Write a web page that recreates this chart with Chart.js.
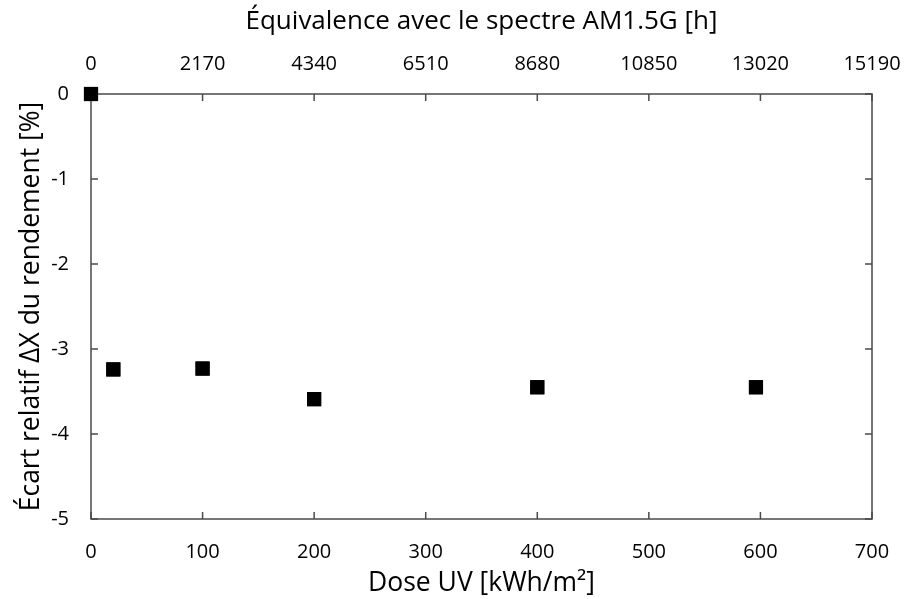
<!DOCTYPE html>
<html>
<head>
<meta charset="utf-8">
<script src="https://cdn.jsdelivr.net/npm/chart.js@4.4.0/dist/chart.umd.min.js"></script>
<style>
  html, body { margin: 0; padding: 0; background: #fff; }
  #wrap { width: 905px; height: 599px; }
</style>
</head>
<body>
<div id="wrap"><canvas id="c"></canvas></div>
<script>
// données
const doseUV = [0, 20, 100, 200, 400, 596];
const ecartRendement = [0, -3.24, -3.23, -3.59, -3.45, -3.45];
const heuresStep = 2170;
const heuresMax = 15190;

const FONT = "'Open Sans', 'DejaVu Sans', sans-serif";
const frameColor = '#4a4a4a';

// cadre + graduations vers l'intérieur
const innerTicks = {
    id: 'innerTicks',
    afterDraw(chart) {
        const ctx = chart.ctx;
        const a = chart.chartArea;
        const len = 7;
        ctx.save();
        ctx.strokeStyle = frameColor;
        ctx.lineWidth = 1.5;
        ctx.strokeRect(a.left, a.top, a.right - a.left, a.bottom - a.top);
        ctx.beginPath();
        chart.scales.x.ticks.forEach(t => {
            const px = chart.scales.x.getPixelForValue(t.value);
            ctx.moveTo(px, a.bottom); ctx.lineTo(px, a.bottom - len);
        });
        chart.scales.x2.ticks.forEach(t => {
            const px = chart.scales.x2.getPixelForValue(t.value);
            ctx.moveTo(px, a.top); ctx.lineTo(px, a.top + len);
        });
        chart.scales.y.ticks.forEach(t => {
            const py = chart.scales.y.getPixelForValue(t.value);
            ctx.moveTo(a.left, py); ctx.lineTo(a.left + len, py);
            ctx.moveTo(a.right, py); ctx.lineTo(a.right - len, py);
        });
        ctx.stroke();
        ctx.restore();
        // redessiner les points par-dessus le cadre
        chart.getDatasetMeta(0).controller.draw();
    }
};

const plain = v => String(v);
// pas de marge automatique pour les étiquettes débordantes
const noPad = s => { s.paddingLeft = 0; s.paddingRight = 0; s.paddingTop = 0; s.paddingBottom = 0; };

const ctx = document.getElementById('c').getContext('2d');
new Chart(ctx, {
    type: 'scatter',
    data: {
        datasets: [{
            data: doseUV.map((d, i) => ({ x: d, y: ecartRendement[i] })),
            pointStyle: 'rect',
            pointRadius: 10,
            pointBackgroundColor: '#000',
            pointBorderColor: '#000',
            pointBorderWidth: 0,
            xAxisID: 'x',
            yAxisID: 'y',
            clip: false
        }]
    },
    options: {
        responsive: true,
        maintainAspectRatio: false,
        animation: false,
        layout: { padding: { left: 0, right: 33, top: 0, bottom: 0 } },
        plugins: { legend: { display: false }, tooltip: { enabled: false } },
        scales: {
            x: {
                type: 'linear', position: 'bottom', min: 0, max: 700,
                grid: { display: false, drawTicks: false },
                border: { display: false },
                ticks: { stepSize: 100, padding: 21, color: '#000', callback: plain, font: { family: FONT, size: 20 } },
                title: { display: true, text: 'Dose UV [kWh/m²]', color: '#000', padding: { top: 0, bottom: 0 }, font: { family: FONT, size: 26.5 } },
                afterFit(s) { s.height = 80; noPad(s); }
            },
            x2: {
                type: 'linear', position: 'top', min: 0, max: heuresMax,
                grid: { display: false, drawTicks: false },
                border: { display: false },
                ticks: { stepSize: heuresStep, padding: 18, color: '#000', callback: plain, font: { family: FONT, size: 20 } },
                title: { display: true, text: 'Équivalence avec le spectre AM1.5G [h]', color: '#000', padding: { top: 6, bottom: 0 }, font: { family: FONT, size: 26 } },
                afterFit(s) { s.height = 94; noPad(s); }
            },
            y: {
                type: 'linear', min: -5, max: 0,
                grid: { display: false, drawTicks: false },
                border: { display: false },
                ticks: { stepSize: 1, padding: 22, color: '#000', font: { family: FONT, size: 20 } },
                title: { display: true, text: 'Écart relatif ΔX du rendement [%]', color: '#000', padding: { top: 16, bottom: 0 }, font: { family: FONT, size: 26.5 } },
                afterFit(s) { s.width = 91; noPad(s); }
            }
        }
    },
    plugins: [innerTicks]
});
</script>
</body>
</html>
